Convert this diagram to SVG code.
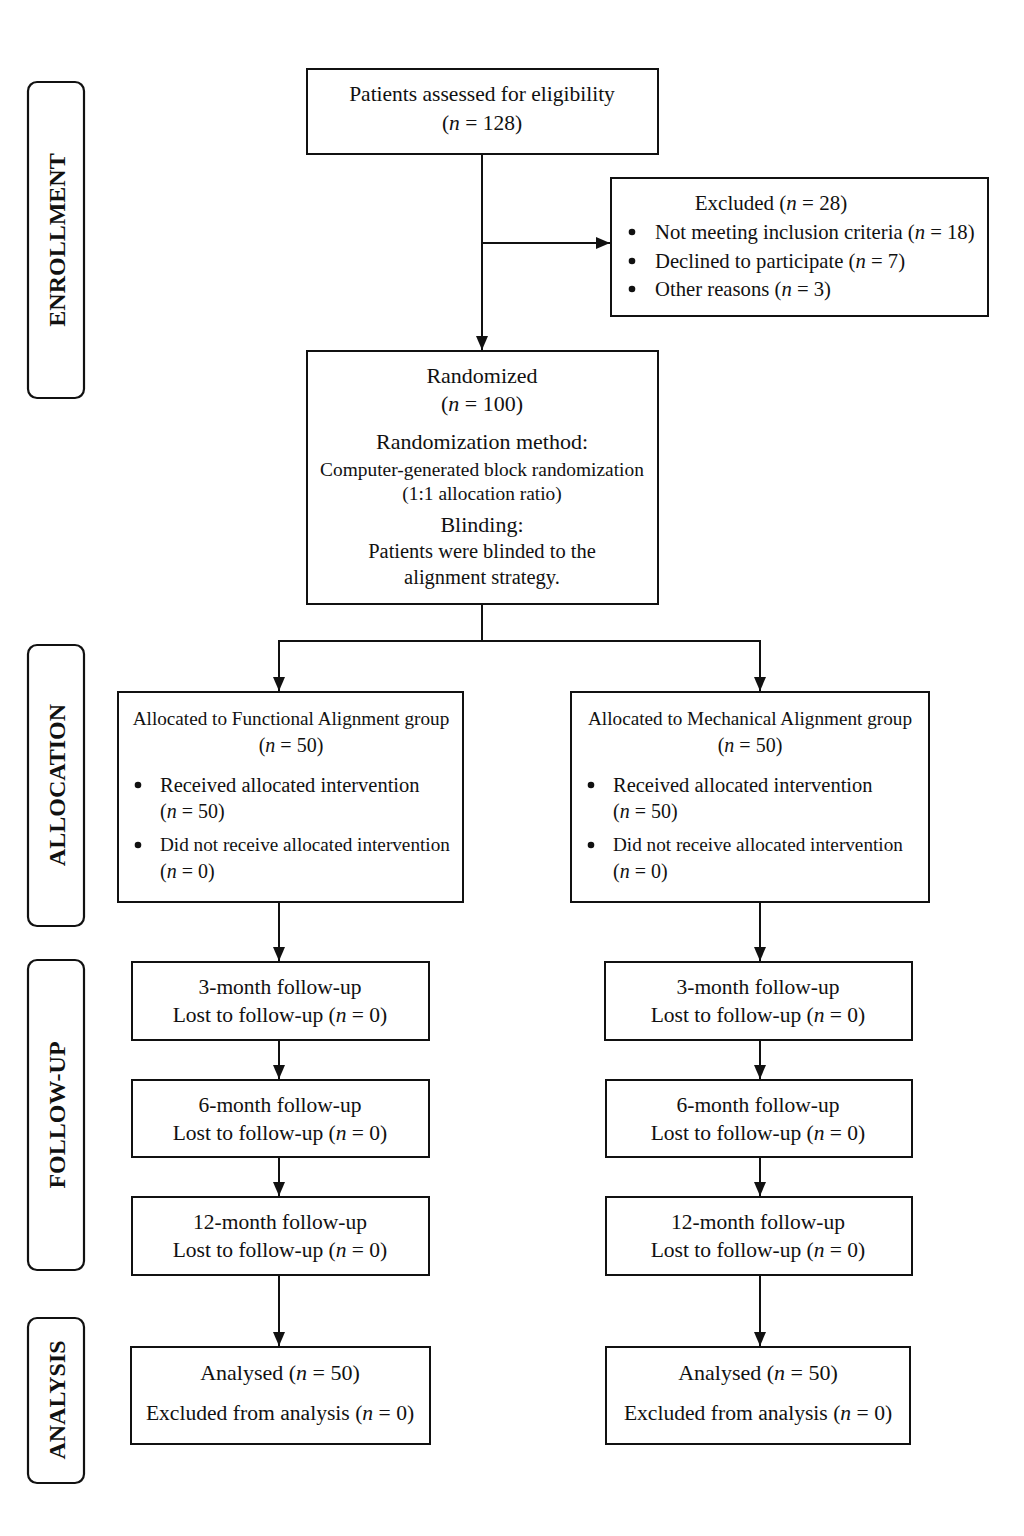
<svg xmlns="http://www.w3.org/2000/svg" width="1024" height="1536" viewBox="0 0 1024 1536">
<style>
text{font-family:"Liberation Serif","Times New Roman",serif;fill:#111;}
.t{font-size:21.5px;text-anchor:middle;}
.m{text-anchor:middle;}
.lab{font-size:24px;font-weight:bold;text-anchor:middle;}
.box{fill:#fff;stroke:#111;stroke-width:2;}
.side{fill:#fff;stroke:#111;stroke-width:2.2;}
.ln{fill:none;stroke:#111;stroke-width:2;}
.dot{fill:#111;}
</style>
<defs>
<marker id="ah" viewBox="0 0 14 14" refX="14" refY="7" markerWidth="14" markerHeight="14" markerUnits="userSpaceOnUse" orient="auto">
<path d="M0,1 L14,7 L0,13 Z" fill="#111"/>
</marker>
</defs>
<rect width="1024" height="1536" fill="#fff"/>

<g id="side-labels">
<g id="enrollment"><rect class="side" x="28" y="82" width="56" height="316" rx="9"/><text class="lab" transform="translate(65,240) rotate(-90)">ENROLLMENT</text></g>
<g id="allocation"><rect class="side" x="28" y="645" width="56" height="281" rx="9"/><text class="lab" transform="translate(65,785) rotate(-90)">ALLOCATION</text></g>
<g id="followup"><rect class="side" x="28" y="960" width="56" height="310" rx="9"/><text class="lab" transform="translate(65,1115) rotate(-90)">FOLLOW-UP</text></g>
<g id="analysis"><rect class="side" x="28" y="1318" width="56" height="165" rx="9"/><text class="lab" transform="translate(65,1400) rotate(-90)">ANALYSIS</text></g>
</g>

<g id="connectors">
<path class="ln" d="M482,154 V350" marker-end="url(#ah)"/>
<path class="ln" d="M482,243 H610" marker-end="url(#ah)"/>
<path class="ln" d="M482,604 V641"/>
<path class="ln" d="M279,641 H760"/>
<path class="ln" d="M279,640 V691" marker-end="url(#ah)"/>
<path class="ln" d="M760,640 V691" marker-end="url(#ah)"/>
<path class="ln" d="M279,902 V961" marker-end="url(#ah)"/>
<path class="ln" d="M760,902 V961" marker-end="url(#ah)"/>
<path class="ln" d="M279,1040 V1079" marker-end="url(#ah)"/>
<path class="ln" d="M760,1040 V1079" marker-end="url(#ah)"/>
<path class="ln" d="M279,1157 V1196" marker-end="url(#ah)"/>
<path class="ln" d="M760,1157 V1196" marker-end="url(#ah)"/>
<path class="ln" d="M279,1275 V1346" marker-end="url(#ah)"/>
<path class="ln" d="M760,1275 V1346" marker-end="url(#ah)"/>
</g>

<g id="assessed">
<rect class="box" x="307" y="69" width="351" height="85"/>
<text class="t" x="482" y="101">Patients assessed for eligibility</text>
<text class="t" x="482" y="130">(<tspan font-style="italic">n</tspan> = 128)</text>
</g>

<g id="excluded">
<rect class="box" x="611" y="178" width="377" height="138"/>
<text class="m" style="font-size:21px" x="771" y="210">Excluded (<tspan font-style="italic">n</tspan> = 28)</text>
<circle class="dot" cx="632" cy="232" r="3.3"/>
<circle class="dot" cx="632" cy="261" r="3.3"/>
<circle class="dot" cx="632" cy="289" r="3.3"/>
<text style="font-size:20.7px" x="655" y="239">Not meeting inclusion criteria (<tspan font-style="italic">n</tspan> = 18)</text>
<text style="font-size:20.7px" x="655" y="268">Declined to participate (<tspan font-style="italic">n</tspan> = 7)</text>
<text style="font-size:20.7px" x="655" y="296">Other reasons (<tspan font-style="italic">n</tspan> = 3)</text>
</g>

<g id="randomized">
<rect class="box" x="307" y="351" width="351" height="253"/>
<text class="m" style="font-size:22px" x="482" y="383">Randomized</text>
<text class="m" style="font-size:22px" x="482" y="411">(<tspan font-style="italic">n</tspan> = 100)</text>
<text class="m" style="font-size:22px" x="482" y="449">Randomization method:</text>
<text class="m" style="font-size:19.4px" x="482" y="476">Computer-generated block randomization</text>
<text class="m" style="font-size:19.4px" x="482" y="500">(1:1 allocation ratio)</text>
<text class="m" style="font-size:22px" x="482" y="532">Blinding:</text>
<text class="m" style="font-size:20.5px" x="482" y="558">Patients were blinded to the</text>
<text class="m" style="font-size:20.5px" x="482" y="584">alignment strategy.</text>
</g>

<g id="alloc-fa">
<rect class="box" x="118" y="692" width="345" height="210"/>
<text class="m" style="font-size:19.2px" x="291" y="725">Allocated to Functional Alignment group</text>
<text class="m" style="font-size:20px" x="291" y="752">(<tspan font-style="italic">n</tspan> = 50)</text>
<circle class="dot" cx="138" cy="785" r="3.3"/>
<circle class="dot" cx="138" cy="845" r="3.3"/>
<text style="font-size:20.5px" x="160" y="792">Received allocated intervention</text>
<text style="font-size:20px" x="160" y="818">(<tspan font-style="italic">n</tspan> = 50)</text>
<text style="font-size:19.2px" x="160" y="851">Did not receive allocated intervention</text>
<text style="font-size:20px" x="160" y="878">(<tspan font-style="italic">n</tspan> = 0)</text>
</g>

<g id="alloc-ma">
<rect class="box" x="571" y="692" width="358" height="210"/>
<text class="m" style="font-size:19.2px" x="750" y="725">Allocated to Mechanical Alignment group</text>
<text class="m" style="font-size:20px" x="750" y="752">(<tspan font-style="italic">n</tspan> = 50)</text>
<circle class="dot" cx="591" cy="785" r="3.3"/>
<circle class="dot" cx="591" cy="845" r="3.3"/>
<text style="font-size:20.5px" x="613" y="792">Received allocated intervention</text>
<text style="font-size:20px" x="613" y="818">(<tspan font-style="italic">n</tspan> = 50)</text>
<text style="font-size:19.2px" x="613" y="851">Did not receive allocated intervention</text>
<text style="font-size:20px" x="613" y="878">(<tspan font-style="italic">n</tspan> = 0)</text>
</g>

<g id="fa-3m">
<rect class="box" x="132" y="962" width="297" height="78"/>
<text class="t" x="280" y="994">3-month follow-up</text>
<text class="t" x="280" y="1022">Lost to follow-up (<tspan font-style="italic">n</tspan> = 0)</text>
</g>
<g id="fa-6m">
<rect class="box" x="132" y="1080" width="297" height="77"/>
<text class="t" x="280" y="1112">6-month follow-up</text>
<text class="t" x="280" y="1140">Lost to follow-up (<tspan font-style="italic">n</tspan> = 0)</text>
</g>
<g id="fa-12m">
<rect class="box" x="132" y="1197" width="297" height="78"/>
<text class="t" x="280" y="1229">12-month follow-up</text>
<text class="t" x="280" y="1257">Lost to follow-up (<tspan font-style="italic">n</tspan> = 0)</text>
</g>

<g id="ma-3m">
<rect class="box" x="605" y="962" width="307" height="78"/>
<text class="t" x="758" y="994">3-month follow-up</text>
<text class="t" x="758" y="1022">Lost to follow-up (<tspan font-style="italic">n</tspan> = 0)</text>
</g>
<g id="ma-6m">
<rect class="box" x="606" y="1080" width="306" height="77"/>
<text class="t" x="758" y="1112">6-month follow-up</text>
<text class="t" x="758" y="1140">Lost to follow-up (<tspan font-style="italic">n</tspan> = 0)</text>
</g>
<g id="ma-12m">
<rect class="box" x="606" y="1197" width="306" height="78"/>
<text class="t" x="758" y="1229">12-month follow-up</text>
<text class="t" x="758" y="1257">Lost to follow-up (<tspan font-style="italic">n</tspan> = 0)</text>
</g>

<g id="fa-analysis">
<rect class="box" x="131" y="1347" width="299" height="97"/>
<text class="m" style="font-size:22px" x="280" y="1380">Analysed (<tspan font-style="italic">n</tspan> = 50)</text>
<text class="m" style="font-size:21.6px" x="280" y="1420">Excluded from analysis (<tspan font-style="italic">n</tspan> = 0)</text>
</g>
<g id="ma-analysis">
<rect class="box" x="606" y="1347" width="304" height="97"/>
<text class="m" style="font-size:22px" x="758" y="1380">Analysed (<tspan font-style="italic">n</tspan> = 50)</text>
<text class="m" style="font-size:21.6px" x="758" y="1420">Excluded from analysis (<tspan font-style="italic">n</tspan> = 0)</text>
</g>
</svg>
